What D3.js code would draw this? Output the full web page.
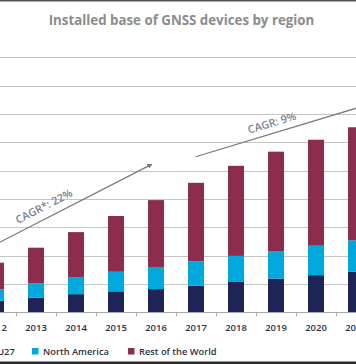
<!DOCTYPE html>
<html><head><meta charset="utf-8">
<script src="https://cdn.jsdelivr.net/npm/d3@7"></script>
<style>html,body{margin:0;padding:0;background:#fff;overflow:hidden}</style>
</head><body>
<svg id="c" width="356" height="364"></svg>
<script>
// ---- data ----
const years = ["2012","2013","2014","2015","2016","2017","2018","2019","2020","2021"];
const eu27 =          [0.41,0.52,0.64,0.74,0.82,0.94,1.07,1.19,1.31,1.43];
const northAmerica =  [0.40,0.50,0.60,0.69,0.78,0.86,0.92,0.97,1.04,1.11];
const restOfWorld =   [0.94,1.26,1.59,1.97,2.36,2.77,3.18,3.51,3.74,3.99];
const seriesNames = ["EU27","North America","Rest of the World"];
const gridValues = [1,2,3,4,5,6,7,8,9];
const titleText = "Installed base of GNSS devices by region";
// CAGR annotations in (category index, value) space
const cagrLabels = ["CAGR*: 22%","CAGR: 9%"];
const cagrFrom = [[-0.6,1.97],[4.99,5.49]];
const cagrTo   = [[3.89,5.22],[9.6,7.46]];
const cagrLabelT = [0.43,0.43];
const cagrLabelOffset = [8,6.5];

// ---- styles ----
const colors = {"EU27":"#1e2456","North America":"#00a8dd","Rest of the World":"#8b2d4e"};
const font = "'Open Sans', sans-serif";

const svg = d3.select("#c");
const W = 356, H = 364;

const x = d3.scaleBand().domain(years).range([-24,376]).paddingInner(0.6).paddingOuter(0.3);
const y = d3.scaleLinear().domain([0,9]).range([312.3,57.3]);
const step = x.step(), bw = x.bandwidth();
const idx = d3.scaleLinear().domain([0,1]).range([x(years[0])+bw/2, x(years[0])+bw/2+step]);

// borders
svg.append("rect").attr("x",0).attr("y",0).attr("width",W).attr("height",1.5).attr("fill","#555");
svg.append("rect").attr("x",0).attr("y",361.5).attr("width",W).attr("height",2.5).attr("fill","#2a2a2a");

// title
svg.append("text").attr("x",181.5).attr("y",24.5).attr("text-anchor","middle")
  .attr("font-family",font).attr("font-weight",700).attr("font-size",13.3)
  .attr("fill","#8c8c8c").text(titleText);

// gridlines
svg.append("g").selectAll("line").data(gridValues).join("line")
  .attr("x1",0).attr("x2",W)
  .attr("y1",d=>Math.round(y(d))+0.5).attr("y2",d=>Math.round(y(d))+0.5)
  .attr("stroke","#c4c4c4").attr("stroke-width",1);

// stacked bars
const table = years.map((yr,i)=>({year:yr,"EU27":eu27[i],"North America":northAmerica[i],"Rest of the World":restOfWorld[i]}));
const stacked = d3.stack().keys(seriesNames)(table);
svg.append("g").selectAll("g").data(stacked).join("g")
  .attr("fill",d=>colors[d.key])
  .selectAll("rect").data(d=>d).join("rect")
  .attr("x",d=>x(d.data.year)).attr("width",bw)
  .attr("y",d=>y(d[1])).attr("height",d=>y(d[0])-y(d[1]));

// x axis
const axisY = Math.round(y(0))+0.5;
svg.append("line").attr("x1",0).attr("x2",W).attr("y1",axisY).attr("y2",axisY)
  .attr("stroke","#a8a8a8").attr("stroke-width",1);
svg.append("g").selectAll("line").data(years).join("line")
  .attr("x1",d=>Math.round(x(d)+bw+(step-bw)/2)+0.5).attr("x2",d=>Math.round(x(d)+bw+(step-bw)/2)+0.5)
  .attr("y1",axisY).attr("y2",axisY+4).attr("stroke","#a8a8a8");
const xAxis = d3.axisBottom(x).tickSize(0).tickPadding(0);
const gx = svg.append("g").attr("transform",`translate(0,${axisY})`).call(xAxis);
gx.select(".domain").remove();
gx.selectAll("text").attr("dy",null).attr("y",18.5)
  .attr("font-family",font).attr("font-weight",600).attr("font-size",9.5).attr("fill","#2f3040");

// CAGR arrows
const defs = svg.append("defs");
defs.append("marker").attr("id","ah").attr("viewBox","0 0 10 10").attr("refX",8).attr("refY",5)
  .attr("markerWidth",4).attr("markerHeight",4).attr("orient","auto")
  .append("path").attr("d","M0,0L10,5L0,10z").attr("fill","#777");
cagrLabels.forEach((lab,i)=>{
  const x1 = idx(cagrFrom[i][0]), y1 = y(cagrFrom[i][1]);
  const x2 = idx(cagrTo[i][0]), y2 = y(cagrTo[i][1]);
  svg.append("line").attr("x1",x1).attr("y1",y1).attr("x2",x2).attr("y2",y2)
    .attr("stroke","#7a7a7a").attr("stroke-width",1.3).attr("marker-end","url(#ah)");
  const t = cagrLabelT[i];
  const px = x1+(x2-x1)*t, py = y1+(y2-y1)*t;
  const ang = Math.atan2(y2-y1,x2-x1)*180/Math.PI;
  svg.append("text").attr("transform",`translate(${px},${py}) rotate(${ang})`)
    .attr("y",-cagrLabelOffset[i]).attr("text-anchor","middle")
    .attr("font-family",font).attr("font-weight",600).attr("font-size",10.8)
    .attr("fill","#76818f").text(lab);
});

// legend
const legX = [-19,32,128];
const lg = svg.append("g").selectAll("g").data(seriesNames).join("g")
  .attr("transform",(d,i)=>`translate(${legX[i]},348)`);
lg.append("rect").attr("width",6.5).attr("height",6.5).attr("fill",d=>colors[d]);
lg.append("text").attr("x",11).attr("y",6.8)
  .attr("font-family",font).attr("font-weight",600).attr("font-size",9.3)
  .attr("fill","#2f3040").text(d=>d);
</script>
</body></html>
